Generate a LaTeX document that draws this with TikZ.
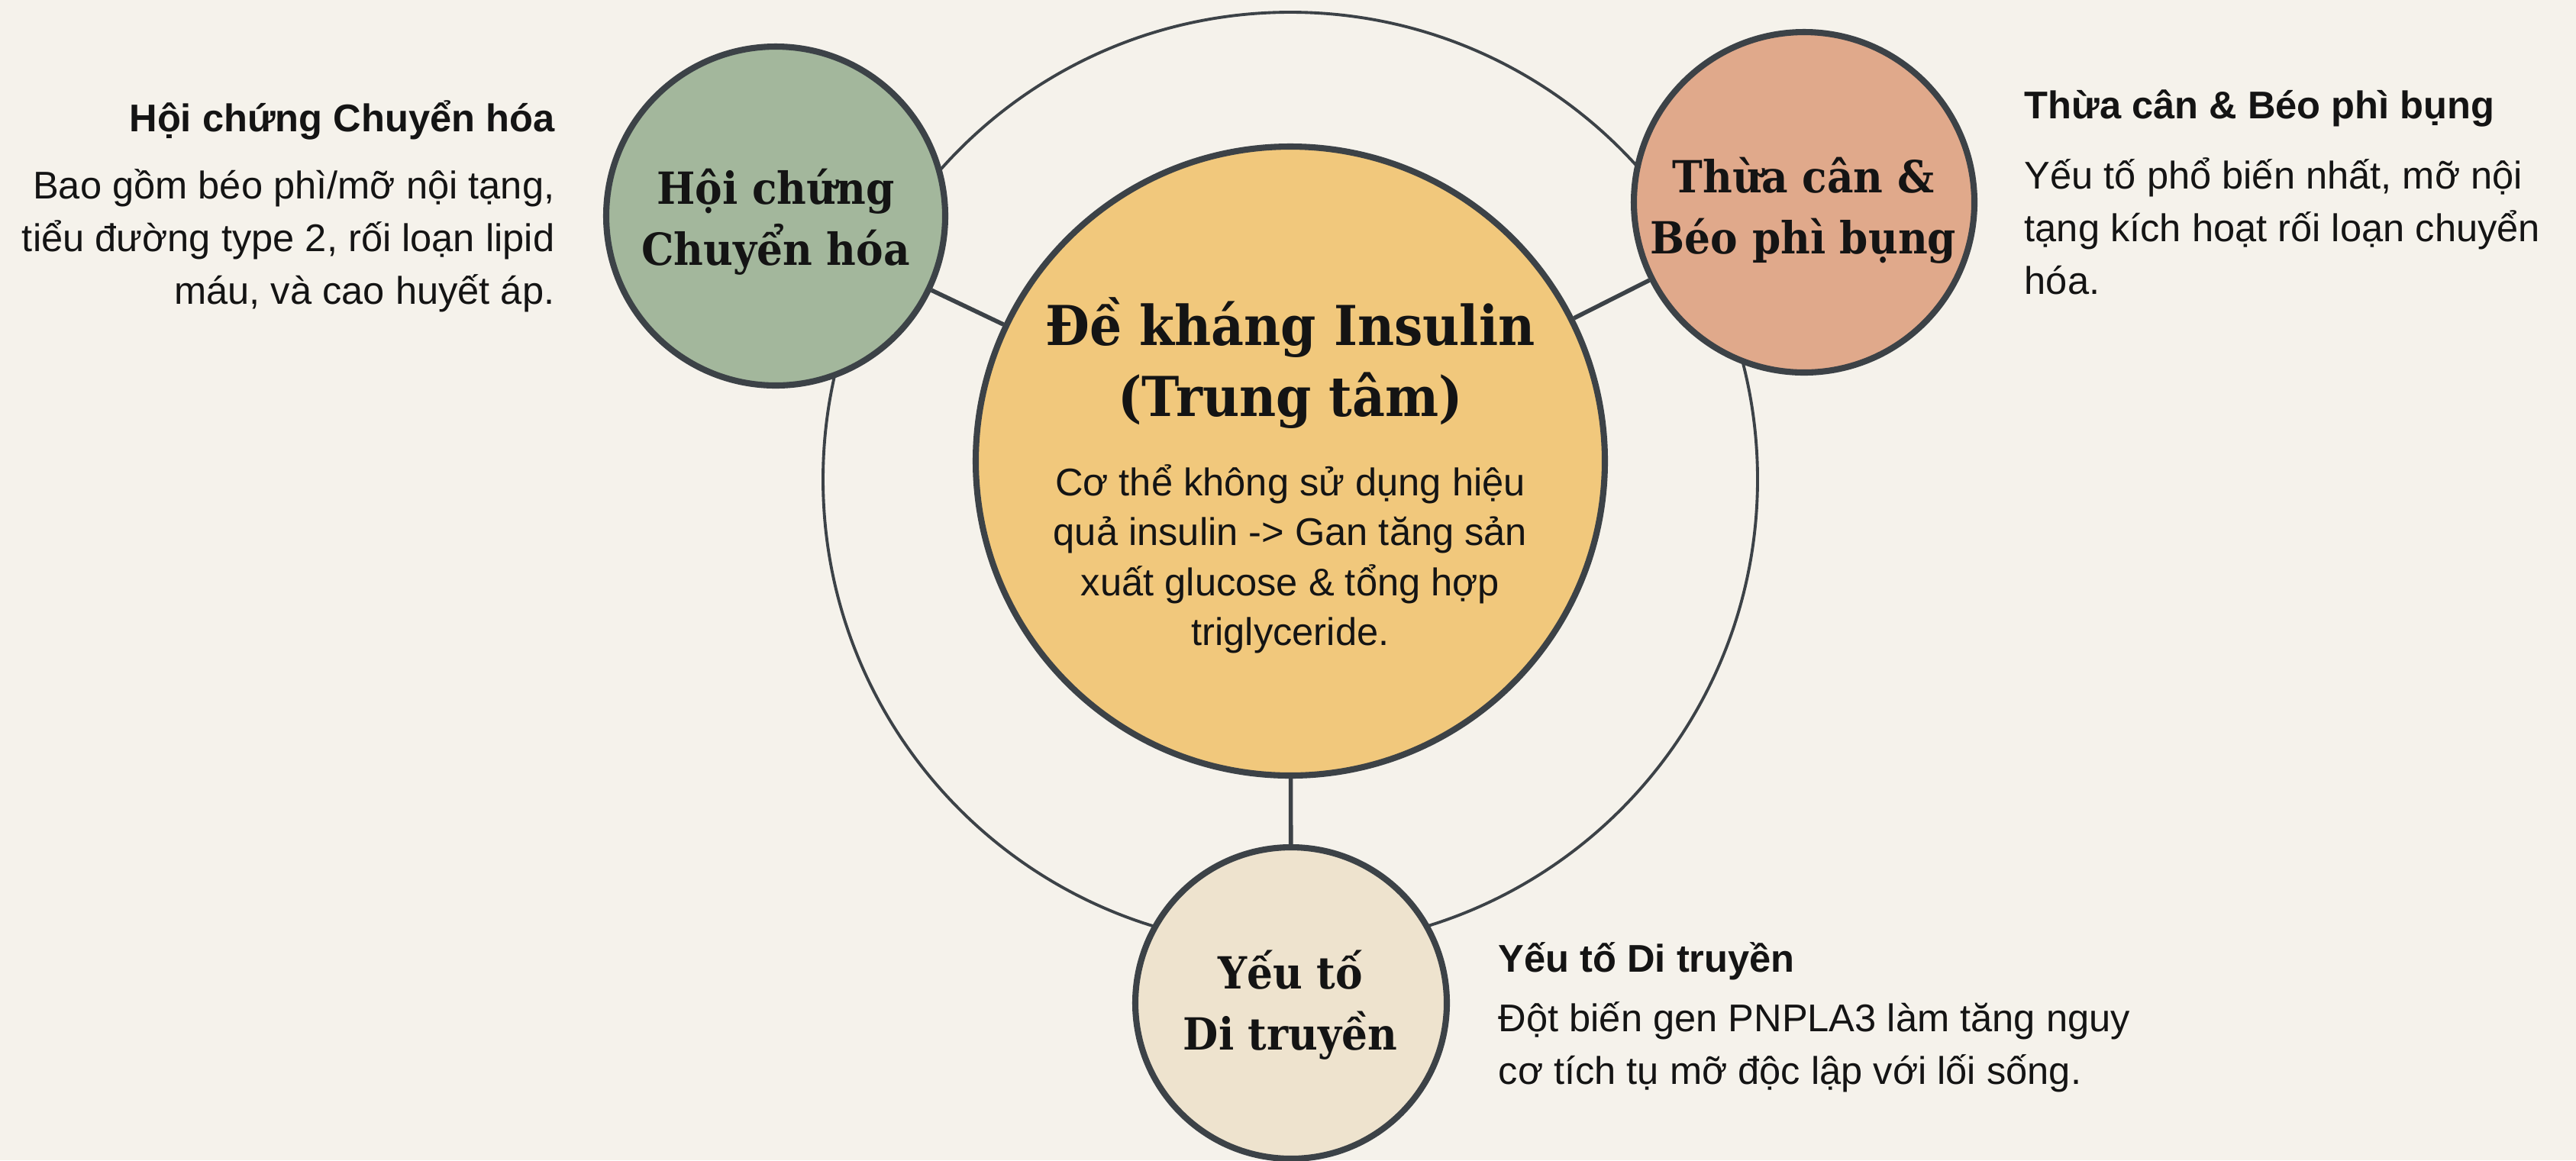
\documentclass[tikz,border=0pt]{standalone}
\usepackage{fontspec}
\setmainfont{Liberation Sans}
\newfontfamily\serifttl[FakeStretch=0.92]{DejaVu Serif}
\definecolor{paper}{HTML}{F5F2EB}
\definecolor{ink}{HTML}{3C4247}
\definecolor{txtc}{HTML}{141414}
\definecolor{gold}{HTML}{F1C87C}
\definecolor{sage}{HTML}{A3B79C}
\definecolor{salmon}{HTML}{E0A98B}
\definecolor{sand}{HTML}{EEE3CE}
\begin{document}
\begin{tikzpicture}[
  bubble/.style={circle,draw=ink,line width=2.3pt},
  ring/.style={draw=ink,line width=1.1pt},
  link/.style={draw=ink,line width=1.6pt},
  bigttl/.style={text=txtc,font=\serifttl\bfseries\fontsize{20.5}{26.2}\selectfont,align=center,anchor=base},
  ttl/.style={text=txtc,font=\serifttl\bfseries\fontsize{16.5}{22.5}\selectfont,align=center,anchor=base},
  body/.style={text=txtc,font=\fontsize{14.4}{18.5}\selectfont,align=center,anchor=base},
  side/.style={text=txtc,font=\fontsize{14.4}{19.6}\selectfont},
  head/.style={text=txtc,font=\bfseries\fontsize{14.4}{18.5}\selectfont}]
\tikzstyle{every node}+=[inner sep=0pt]
\fill [paper] (0,0) rectangle (33.74,-15.20);
\useasboundingbox (0,0) rectangle (33.74,-15.20);
\draw [ring] (16.90,-6.28) circle (6.12);
\node [bubble,fill=gold,minimum size=8.24cm] (cen) at (16.90,-6.04) {};
\node [bubble,fill=sage,minimum size=4.44cm] (met) at (10.16,-2.83) {};
\node [bubble,fill=salmon,minimum size=4.46cm] (obe) at (23.63,-2.65) {};
\node [bubble,fill=sand,minimum size=4.08cm] (gen) at (16.91,-13.14) {};
\draw [link] (cen) -- (met);
\draw [link] (cen) -- (obe);
\draw [link] (cen) -- (gen);
\node [bigttl] (cttl) at (16.90,-5.45) {Đề kháng Insulin\\(Trung tâm)};
\node [body] (ctxt) at (16.90,-8.45) {Cơ thể không sử dụng hiệu\\quả insulin -> Gan tăng sản\\xuất glucose \& tổng hợp\\triglyceride.};
\node [ttl] (mttl) at (10.16,-3.47) {Hội chứng\\Chuyển hóa};
\node [ttl] (ottl) at (23.62,-3.32) {Thừa cân \&\\Béo phì bụng};
\node [ttl] (gttl) at (16.90,-13.75) {Yếu tố\\Di truyền};
\node [head,anchor=base east] (mhead) at (7.27,-1.72) {Hội chứng Chuyển hóa};
\node [side,align=right,anchor=base east] (mtxt) at (7.27,-3.98) {Bao gồm béo phì/mỡ nội tạng,\\tiểu đường type 2, rối loạn lipid\\máu, và cao huyết áp.};
\node [head,anchor=base west] (ohead) at (26.51,-1.55) {Thừa cân \& Béo phì bụng};
\node [side,align=left,anchor=base west] (otxt) at (26.51,-3.85) {Yếu tố phổ biến nhất, mỡ nội\\tạng kích hoạt rối loạn chuyển\\hóa.};
\node [head,anchor=base west] (ghead) at (19.62,-12.73) {Yếu tố Di truyền};
\node [side,align=left,anchor=base west] (gtxt) at (19.62,-14.20) {Đột biến gen PNPLA3 làm tăng nguy\\cơ tích tụ mỡ độc lập với lối sống.};
\end{tikzpicture}
\end{document}
